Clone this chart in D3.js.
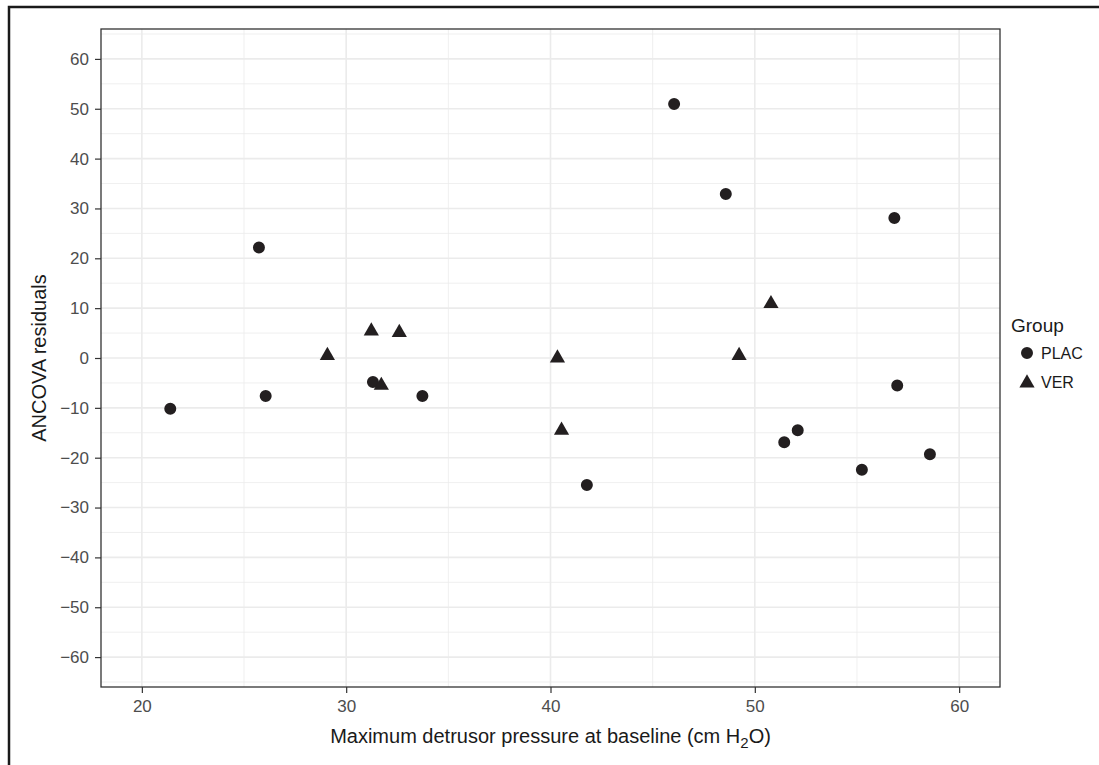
<!doctype html>
<html>
<head>
    <meta charset="utf-8">
    <style>
        body { margin: 0; background: #fff; }
        text { font-family: "Liberation Sans", Arial, Helvetica, sans-serif; }
        .tick line { stroke: #333; }
        .domain { display: none; }
    </style>
    <script src="https://d3js.org/d3.v7.min.js"></script>
</head>
<body>
<svg width="1099" height="765"></svg>
<script>

    // PLAC group (circles)
    var placX = [21.39, 25.73, 26.06, 31.31, 33.73, 41.78, 46.05, 48.58, 51.44, 52.1, 55.24, 56.83, 56.97, 58.57];
    var placY = [-10.2, 22.15, -7.6, -4.8, -7.6, -25.5, 50.97, 32.9, -16.9, -14.5, -22.4, 28.1, -5.5, -19.3];
    // VER group (triangles)
    var verX = [29.08, 31.23, 31.72, 32.6, 40.34, 40.54, 49.23, 50.79];
    var verY = [0.5, 5.4, -5.5, 5.1, 0, -14.5, 0.5, 10.9];

    var xTicks = [20, 30, 40, 50, 60];
    var yTicks = [-60, -50, -40, -30, -20, -10, 0, 10, 20, 30, 40, 50, 60];
    var groups = ["PLAC", "VER"];

    var svg = d3.select("svg");

    // outer frame (only left/top show in the picture)
    svg.append("rect")
       .attr("x", 9).attr("y", 7)
       .attr("width", 1200).attr("height", 900)
       .attr("fill", "none")
       .attr("stroke", "#1a1a1a")
       .attr("stroke-width", 2.5);

    var pLeft = 101, pTop = 29, pRight = 1000, pBottom = 687;

    var x = d3.scaleLinear().domain([18, 62]).range([pLeft, pRight]);
    var y = d3.scaleLinear().domain([-66, 66]).range([pBottom, pTop]);

    var grid = svg.append("g");

    // minor grid
    [25, 35, 45, 55].forEach(function(d) {
        grid.append("line").attr("x1", x(d)).attr("x2", x(d)).attr("y1", pTop).attr("y2", pBottom)
            .attr("stroke", "#ebebeb").attr("stroke-width", 0.8);
    });
    d3.range(-65, 66, 10).forEach(function(d) {
        grid.append("line").attr("y1", y(d)).attr("y2", y(d)).attr("x1", pLeft).attr("x2", pRight)
            .attr("stroke", "#ebebeb").attr("stroke-width", 0.8);
    });
    // major grid
    xTicks.forEach(function(d) {
        grid.append("line").attr("x1", x(d)).attr("x2", x(d)).attr("y1", pTop).attr("y2", pBottom)
            .attr("stroke", "#ebebeb").attr("stroke-width", 1.6);
    });
    yTicks.forEach(function(d) {
        grid.append("line").attr("y1", y(d)).attr("y2", y(d)).attr("x1", pLeft).attr("x2", pRight)
            .attr("stroke", "#ebebeb").attr("stroke-width", 1.6);
    });

    // axes
    var xAxis = svg.append("g")
       .attr("transform", "translate(0," + pBottom + ")")
       .call(d3.axisBottom(x).tickValues(xTicks).tickSize(6).tickPadding(7));

    var yAxis = svg.append("g")
       .attr("transform", "translate(" + pLeft + ",0)")
       .call(d3.axisLeft(y).tickValues(yTicks).tickSize(6).tickPadding(6));

    [xAxis, yAxis].forEach(function(a) {
        a.attr("font-size", null).attr("font-family", null);
        a.selectAll(".tick line").attr("stroke-width", 1.2);
        a.selectAll(".tick text")
         .style("font-size", "17px")
         .attr("fill", "#4d4d4d");
    });

    // panel border
    svg.append("rect")
       .attr("x", pLeft).attr("y", pTop)
       .attr("width", pRight - pLeft).attr("height", pBottom - pTop)
       .attr("fill", "none")
       .attr("stroke", "#333")
       .attr("stroke-width", 1.3);

    // points
    var plac = placX.map(function(d, i) { return {x: d, y: placY[i]}; });
    var ver = verX.map(function(d, i) { return {x: d, y: verY[i]}; });

    var circle = d3.symbol().type(d3.symbolCircle).size(113);
    var tri = d3.symbol().type(d3.symbolTriangle).size(100);

    svg.append("g").selectAll("path")
       .data(plac)
       .enter().append("path")
       .attr("d", circle)
       .attr("transform", function(d) { return "translate(" + x(d.x) + "," + y(d.y) + ")"; })
       .attr("fill", "#231f20");

    svg.append("g").selectAll("path")
       .data(ver)
       .enter().append("path")
       .attr("d", tri)
       .attr("transform", function(d) { return "translate(" + x(d.x) + "," + y(d.y) + ")"; })
       .attr("fill", "#231f20");

    // axis titles
    var xt = svg.append("text")
       .attr("x", (pLeft + pRight) / 2)
       .attr("y", 743)
       .attr("text-anchor", "middle")
       .attr("font-size", "20px")
       .attr("fill", "#1a1a1a");
    xt.append("tspan").text("Maximum detrusor pressure at baseline (cm H");
    xt.append("tspan").attr("font-size", "15px").attr("dy", 5).text("2");
    xt.append("tspan").attr("dy", -5).text("O)");

    svg.append("text")
       .attr("transform", "translate(46," + (pTop + pBottom) / 2 + ") rotate(-90)")
       .attr("text-anchor", "middle")
       .attr("font-size", "20px")
       .attr("fill", "#1a1a1a")
       .text("ANCOVA residuals");

    // legend
    var lg = svg.append("g").attr("transform", "translate(1011,0)");
    lg.append("text").attr("x", 0).attr("y", 332)
      .attr("font-size", "19px").attr("fill", "#1a1a1a").text("Group");

    var shapes = [circle, tri];
    groups.forEach(function(name, i) {
        var cy = 353 + i * 29;
        lg.append("path")
          .attr("d", shapes[i])
          .attr("transform", "translate(16," + (cy + (i == 1 ? 1 : 0)) + ")")
          .attr("fill", "#231f20");
        lg.append("text")
          .attr("x", 30).attr("y", cy + 6)
          .attr("font-size", "16px").attr("fill", "#1a1a1a")
          .text(name);
    });

</script>
</body>
</html>
